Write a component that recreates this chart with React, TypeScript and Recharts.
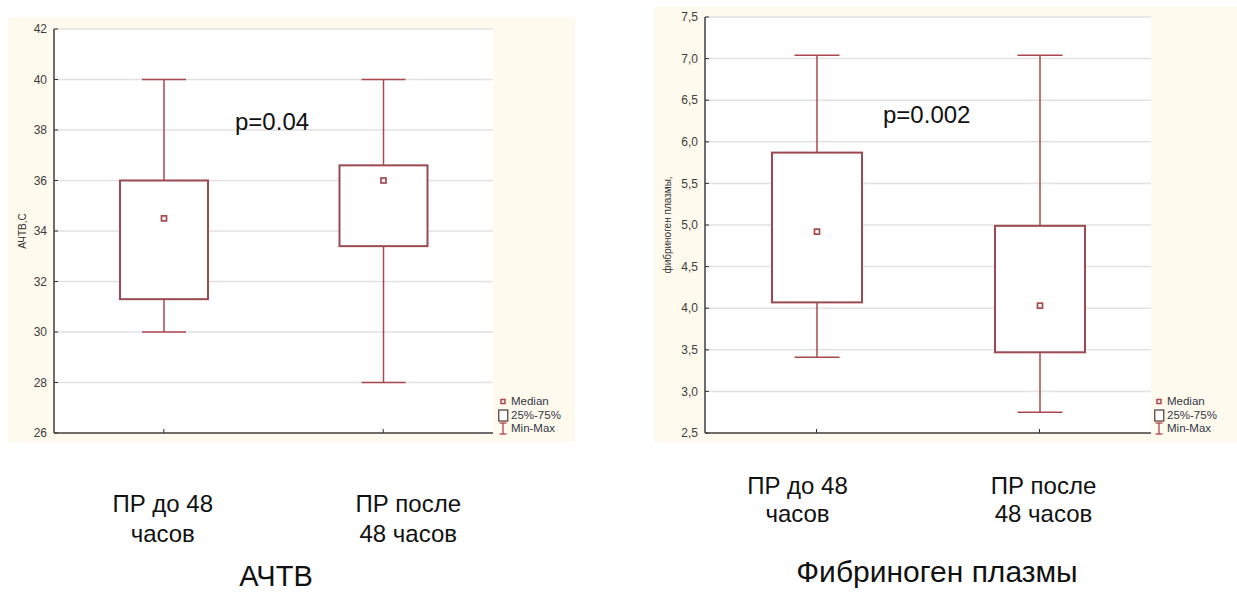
import React from "react";
import { ComposedChart, Bar, XAxis, YAxis, CartesianGrid, Legend } from "recharts";

// categories
const groups = ["ПР до 48 часов", "ПР после 48 часов"];
const groupLines = [
  ["ПР до 48", "часов"],
  ["ПР после", "48 часов"],
];
const legendItems = ["Median", "25%-75%", "Min-Max"];

// АЧТВ
const apttMin = [30, 28];
const apttQ1 = [31.3, 33.4];
const apttMedian = [34.5, 36];
const apttQ3 = [36, 36.6];
const apttMax = [40, 40];
const apttTicks = [26, 28, 30, 32, 34, 36, 38, 40, 42];

// Фибриноген плазмы
const fibMin = [3.41, 2.75];
const fibQ1 = [4.07, 3.47];
const fibMedian = [4.92, 4.03];
const fibQ3 = [5.87, 4.99];
const fibMax = [7.04, 7.04];
const fibTicks = [2.5, 3, 3.5, 4, 4.5, 5, 5.5, 6, 6.5, 7, 7.5];

const RED = "#a8484e";
const FRAME = "#6e6e6e";
const CREAM = "#fffaee";
const FONT = "'Liberation Sans', Arial, sans-serif";
const NARROW = "'Liberation Sans Narrow', 'Liberation Sans', Arial, sans-serif";

const buildRows = (mn: number[], q1: number[], md: number[], q3: number[], mx: number[]) =>
  groups.map((name, i) => ({ name, min: mn[i], q1: q1[i], median: md[i], q3: q3[i], max: mx[i] }));

const apttRows = buildRows(apttMin, apttQ1, apttMedian, apttQ3, apttMax);
const fibRows = buildRows(fibMin, fibQ1, fibMedian, fibQ3, fibMax);

const BoxShape = (props: any) => {
  const { x, y, width, height, payload } = props;
  if (!payload) return null;
  const { min, q1, median, q3, max } = payload;
  const top = Math.min(y, y + height);
  const bottom = Math.max(y, y + height);
  // bar spans min..max, so other values are placed along the same scale
  const py = (v: number) => bottom - ((bottom - top) * (v - min)) / (max - min);
  const cx = x + width / 2;
  const cap = width / 4;
  return (
    <g stroke={RED} strokeWidth={1.5} fill="none">
      <line x1={cx} x2={cx} y1={py(max)} y2={py(q3)} />
      <line x1={cx} x2={cx} y1={py(q1)} y2={py(min)} />
      <line x1={cx - cap} x2={cx + cap} y1={py(max)} y2={py(max)} />
      <line x1={cx - cap} x2={cx + cap} y1={py(min)} y2={py(min)} />
      <rect x={x} y={py(q3)} width={width} height={py(q1) - py(q3)} fill="#fff" stroke="#9a4a50" strokeWidth={2} />
      <rect x={cx - 2.5} y={py(median) - 2.5} width={5} height={5} fill="#fff" strokeWidth={1.7} />
    </g>
  );
};

const CategoryTick = ({ x, y, index, shifts, first, gap }: any) => {
  const lines = groupLines[index] || [];
  const tx = x + shifts[index];
  return (
    <text x={tx} y={y + first} textAnchor="middle" fontSize={24} fill="#111" fontFamily={FONT}>
      {lines.map((l, k) => (
        <tspan key={l} x={tx} dy={k === 0 ? 0 : gap}>
          {l}
        </tspan>
      ))}
    </text>
  );
};

const legendIcon = (i: number) => {
  if (i === 0) return <rect x={3} y={4.5} width={4} height={4} fill="#fff" stroke={RED} strokeWidth={1.5} />;
  if (i === 1) return <rect x={0.75} y={1} width={9} height={11} fill="#fff" stroke="#5b4444" strokeWidth={1.3} />;
  return (
    <g stroke={RED} strokeWidth={1.3}>
      <line x1={1.5} x2={8.5} y1={1} y2={1} />
      <line x1={5} x2={5} y1={1} y2={12} />
      <line x1={1.5} x2={8.5} y1={12} y2={12} />
    </g>
  );
};

const BoxLegend = () => (
  <div style={{ fontFamily: NARROW, fontSize: 11.5, color: "#333645" }}>
    {legendItems.map((label, i) => (
      <div key={label} style={{ display: "flex", alignItems: "center", height: 13.5 }}>
        <svg width={11} height={13}>{legendIcon(i)}</svg>
        <span style={{ marginLeft: 2, lineHeight: "13px" }}>{label}</span>
      </div>
    ))}
  </div>
);

const BoxChart = ({ rows, ticks, domain, yLabel, labelDx, width, height, margin, axisWidth, barSize, fmt, shifts, first, gap, legendPos }: any) => (
  <ComposedChart width={width} height={height} data={rows} margin={margin}>
    <CartesianGrid vertical={false} stroke="#e2e2e2" strokeWidth={1.5} fill="#fff" />
    <XAxis
      dataKey="name"
      height={130}
      interval={0}
      tickSize={-4}
      tickMargin={4}
      axisLine={{ stroke: FRAME, strokeWidth: 2 }}
      tickLine={{ stroke: "#333" }}
      tick={(p: any) => <CategoryTick {...p} shifts={shifts} first={first} gap={gap} />}
    />
    <XAxis
      xAxisId="top"
      dataKey="name"
      orientation="top"
      height={0}
      tick={false}
      tickSize={-4}
      axisLine={{ stroke: FRAME, strokeWidth: 2 }}
      tickLine={{ stroke: "#333" }}
    />
    <YAxis
      type="number"
      domain={domain}
      ticks={ticks}
      width={axisWidth}
      tickSize={-4}
      tickMargin={11}
      tickFormatter={fmt}
      axisLine={{ stroke: FRAME, strokeWidth: 2 }}
      tickLine={{ stroke: "#333" }}
      tick={{ fontSize: 12, fill: "#3d3d3d", fontFamily: NARROW }}
      label={{ value: yLabel, angle: -90, position: "center", dx: labelDx, fontSize: 10, fill: "#333", fontFamily: FONT }}
    />
    <YAxis
      yAxisId="r"
      orientation="right"
      type="number"
      domain={domain}
      ticks={ticks}
      width={0}
      tick={false}
      tickSize={-4}
      axisLine={{ stroke: FRAME, strokeWidth: 2 }}
      tickLine={{ stroke: "#333" }}
    />
    <Bar
      dataKey={(d: any) => [d.min, d.max]}
      barSize={barSize}
      shape={<BoxShape />}
      isAnimationActive={false}
    />
    <Legend
      layout="horizontal"
      verticalAlign="middle"
      align="center"
      content={<BoxLegend />}
      wrapperStyle={{ left: legendPos[0], top: legendPos[1], width: 85 }}
    />
  </ComposedChart>
);

const App = () => (
  <div style={{ position: "absolute", left: 0, top: 0, width: 1237, height: 592, background: "#fff", overflow: "hidden" }}>
    <div style={{ position: "absolute", left: 8, top: 18, width: 567, height: 424, background: CREAM }} />
    <div style={{ position: "absolute", left: 654, top: 7, width: 583, height: 435, background: CREAM }} />
    <div style={{ position: "absolute", left: 8, top: 18 }}>
      <BoxChart
        rows={apttRows}
        ticks={apttTicks}
        domain={[26, 42]}
        yLabel="АЧТВ,С"
        labelDx={-9}
        width={567}
        height={545}
        margin={{ top: 11, right: 82, bottom: 0, left: 0 }}
        axisWidth={46}
        barSize={88}
        fmt={(v: number) => String(v)}
        shifts={[-1, 25]}
        first={79}
        gap={30}
        legendPos={[490, 377]}
      />
    </div>
    <div style={{ position: "absolute", left: 654, top: 7 }}>
      <BoxChart
        rows={fibRows}
        ticks={fibTicks}
        domain={[2.5, 7.5]}
        yLabel="фибриноген плазмы,"
        labelDx={-12.5}
        width={583}
        height={556}
        margin={{ top: 10, right: 86, bottom: 0, left: 0 }}
        axisWidth={51}
        barSize={90}
        fmt={(v: number) => v.toFixed(1).replace(".", ",")}
        shifts={[-19, 4]}
        first={61}
        gap={28}
        legendPos={[500, 388]}
      />
    </div>
    <svg width={1237} height={592} style={{ position: "absolute", left: 0, top: 0, pointerEvents: "none" }}>
      <g fontFamily={FONT} fill="#111">
        <text x={235} y={130} fontSize={24}>p=0.04</text>
        <text x={883} y={123} fontSize={24}>p=0.002</text>
        <text x={276} y={586} fontSize={29} textAnchor="middle">АЧТВ</text>
        <text x={937} y={582} fontSize={30} textAnchor="middle">Фибриноген плазмы</text>
      </g>
    </svg>
  </div>
);

export default App;
